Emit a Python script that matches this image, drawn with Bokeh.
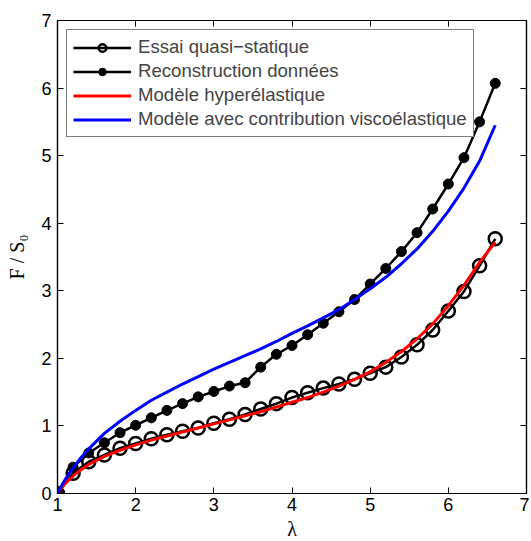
from bokeh.plotting import figure
from bokeh.models import LinearAxis, Legend, LegendItem, FixedTicker, Range1d, CustomJSTickFormatter
from bokeh.embed import file_html
from bokeh.resources import INLINE

# ---- data ----
lam_pts = [1.0, 1.2, 1.4, 1.6, 1.8, 2.0, 2.2, 2.4, 2.6, 2.8, 3.0, 3.2, 3.4, 3.6, 3.8,
           4.0, 4.2, 4.4, 4.6, 4.8, 5.0, 5.2, 5.4, 5.6, 5.8, 6.0, 6.2, 6.4, 6.6]
essai = [0.0, 0.30, 0.47, 0.57, 0.67, 0.74, 0.81, 0.87, 0.92, 0.97, 1.04, 1.10, 1.17, 1.25, 1.33,
         1.42, 1.49, 1.56, 1.62, 1.69, 1.78, 1.87, 2.02, 2.20, 2.42, 2.70, 2.99, 3.37, 3.77]
reconstruction = [0.0, 0.39, 0.60, 0.75, 0.90, 1.01, 1.12, 1.23, 1.33, 1.43, 1.51, 1.59, 1.64, 1.87, 2.06,
                  2.19, 2.35, 2.52, 2.69, 2.87, 3.10, 3.33, 3.58, 3.86, 4.21, 4.58, 4.97, 5.50, 6.07]

lam_model = [1.0, 1.05, 1.1, 1.2, 1.3, 1.4, 1.6, 1.8, 2.0, 2.2, 2.4, 2.6, 2.8, 3.0, 3.2, 3.4, 3.6, 3.8,
             4.0, 4.2, 4.4, 4.6, 4.8, 5.0, 5.2, 5.4, 5.6, 5.8, 6.0, 6.2, 6.4, 6.6]
hyper = [0.0, 0.08, 0.15, 0.26, 0.35, 0.43, 0.55, 0.64, 0.72, 0.79, 0.85, 0.91, 0.97, 1.03, 1.09, 1.15, 1.21, 1.28,
         1.35, 1.42, 1.50, 1.59, 1.69, 1.80, 1.94, 2.10, 2.29, 2.51, 2.78, 3.08, 3.42, 3.72]
visco = [0.0, 0.11, 0.21, 0.38, 0.53, 0.66, 0.89, 1.07, 1.23, 1.38, 1.50, 1.62, 1.73, 1.84, 1.94, 2.04, 2.14, 2.25,
         2.37, 2.48, 2.60, 2.72, 2.87, 3.03, 3.20, 3.40, 3.62, 3.88, 4.18, 4.52, 4.92, 5.45]

x_ticks = [1, 2, 3, 4, 5, 6, 7]
y_ticks = [0, 1, 2, 3, 4, 5, 6, 7]
labels = ["Essai quasi\u2212statique", "Reconstruction donn\u00e9es",
          "Mod\u00e8le hyper\u00e9lastique", "Mod\u00e8le avec contribution visco\u00e9lastique"]

FONT = "Liberation Sans"

p = figure(frame_width=469, frame_height=473, output_backend="svg", toolbar_location=None,
           x_range=Range1d(1, 7), y_range=Range1d(0, 7),
           min_border_left=57, min_border_right=3, min_border_top=20, min_border_bottom=45)
p.grid.visible = False
p.outline_line_color = "black"
p.outline_line_width = 1.2
p.background_fill_color = "white"
p.border_fill_color = "white"

for ax in [p.xaxis[0], p.yaxis[0]]:
    ax.major_tick_in = 6
    ax.major_tick_out = 0
    ax.minor_tick_line_color = None
    ax.axis_line_width = 1.2
    ax.major_tick_line_width = 1
    ax.major_label_text_font = FONT
    ax.major_label_text_font_size = "18px"
    ax.major_label_text_color = "black"
    ax.axis_label_text_font_style = "normal"
    ax.axis_label_text_color = "black"

p.xaxis.ticker = FixedTicker(ticks=x_ticks)
p.yaxis.ticker = FixedTicker(ticks=y_ticks)
p.xaxis.major_label_standoff = 4
p.yaxis.major_label_standoff = 6
p.xaxis.axis_label = "\u03bb"
p.xaxis.axis_label_text_font = "Liberation Serif"
p.xaxis.axis_label_text_font_size = "20px"
p.xaxis.axis_label_standoff = 4
p.yaxis.axis_label = "F / S\u2080"
p.yaxis.axis_label_text_font = "Liberation Serif"
p.yaxis.axis_label_text_font_size = "20px"
p.yaxis.axis_label_standoff = 10

for loc, tk in [("right", y_ticks), ("above", x_ticks)]:
    ax = LinearAxis(ticker=FixedTicker(ticks=tk), major_tick_in=6, major_tick_out=0,
                    minor_tick_line_color=None,
                    formatter=CustomJSTickFormatter(code="return '';"),
                    major_label_text_font_size="10px",
                    major_label_standoff=0, axis_line_width=1.2)
    p.add_layout(ax, loc)

r1l = p.line(lam_pts, essai, line_color="black", line_width=2.5)
r1m = p.scatter(lam_pts, essai, marker="circle", size=13, line_color="black", line_width=2.5,
                fill_color="white", fill_alpha=0)
r2l = p.line(lam_pts, reconstruction, line_color="black", line_width=2.5)
r2m = p.scatter(lam_pts, reconstruction, marker="circle", size=10, line_color="black",
                fill_color="black")
r3 = p.line(lam_model, hyper, line_color="red", line_width=3)
r4 = p.line(lam_model, visco, line_color="blue", line_width=3)

legend = Legend(items=[LegendItem(label=labels[0], renderers=[r1l, r1m]),
                       LegendItem(label=labels[1], renderers=[r2l, r2m]),
                       LegendItem(label=labels[2], renderers=[r3]),
                       LegendItem(label=labels[3], renderers=[r4])],
                location="top_left", margin=9, padding=6, spacing=2,
                glyph_width=58, glyph_height=19, label_height=19, label_standoff=7,
                label_text_font=FONT, label_text_font_size="18.6px",
                border_line_color="black", border_line_width=1.2,
                background_fill_alpha=1)
p.add_layout(legend)

open("out.html", "w").write(file_html(p, INLINE))
